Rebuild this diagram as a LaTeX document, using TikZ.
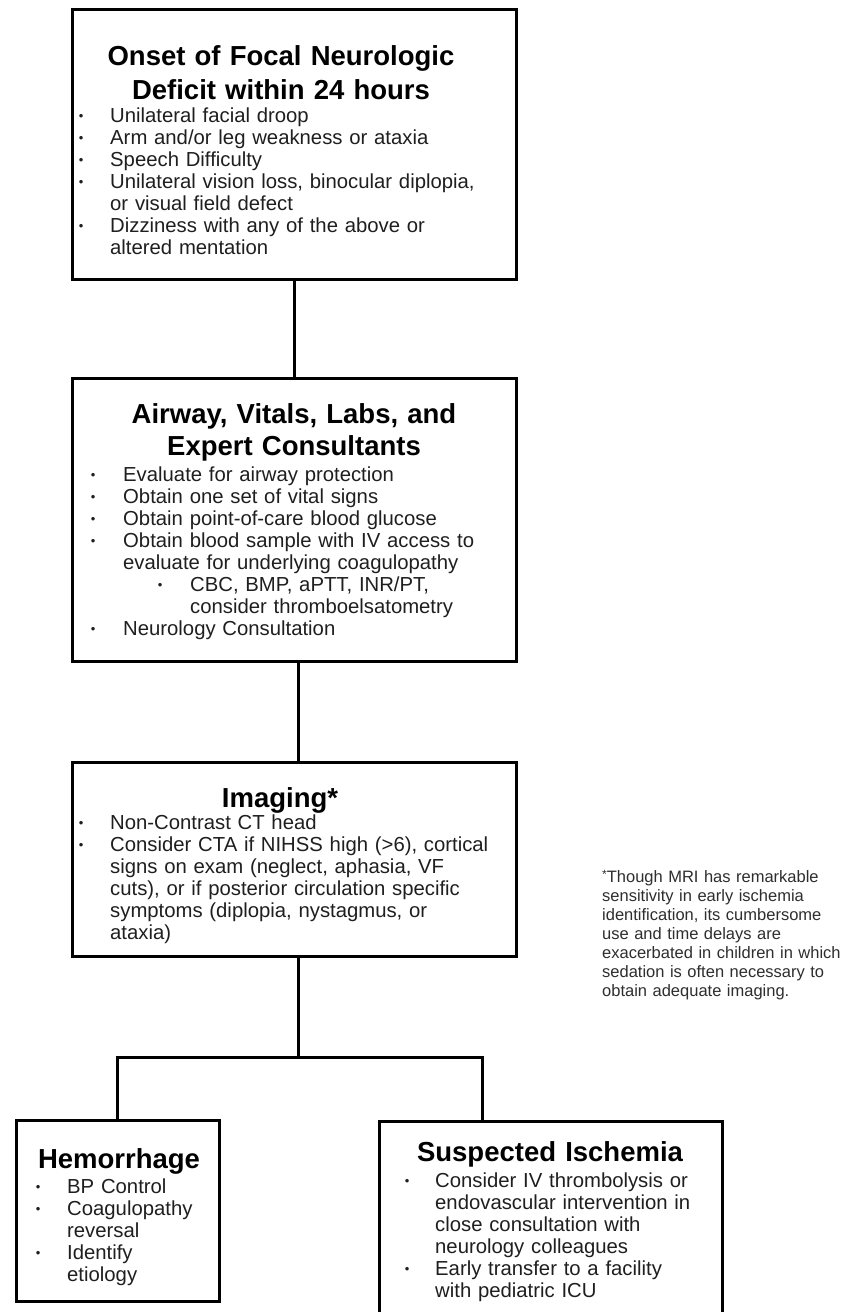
\documentclass[tikz,border=0pt]{standalone}
\usepackage{fontspec}
\setmainfont{Liberation Sans}
\setlength\parskip{0pt}
\definecolor{bodytxt}{rgb}{0.12,0.12,0.12}
\definecolor{notetxt}{rgb}{0.18,0.18,0.18}
\newcommand\bul{\raisebox{1.5pt}{\fontsize{13}{13}\selectfont\textbullet}}
\newcommand\itm[2]{\noindent\hangindent=#1\hangafter=1\makebox[#1][l]{\makebox[0pt]{\bul}}#2\par}
\newcommand\subitm[3]{\noindent\hangindent=#2\hangafter=1\makebox[#2][l]{\hspace{#1}\makebox[0pt]{\bul}}#3\par}
\begin{document}
\begin{tikzpicture}[x=1pt,y=-1pt,
  box/.style={draw=black, line width=3pt, inner sep=0pt, fill=none},
  conn/.style={draw=black, line width=3pt},
  ttl/.style={font=\fontsize{27.5}{33}\selectfont\bfseries, text=black, align=center, inner sep=0pt, anchor=base},
  lst/.style={font=\fontsize{20.3}{22}\selectfont, text=bodytxt, align=left, inner sep=0pt, anchor=base west}]
\useasboundingbox (0,0) rectangle (843,1312);
\clip (0,0) rectangle (843,1312);
\fill[white] (0,0) rectangle (843,1312);

% boxes
\node[box, minimum width=444pt, minimum height=270pt] (b1) at (294,144) {};
\node[box, minimum width=444pt, minimum height=283pt] (b2) at (294,519.5) {};
\node[box, minimum width=444pt, minimum height=194pt] (b3) at (294,859) {};
\node[box, minimum width=203pt, minimum height=181pt] (hem) at (117.5,1210.5) {};
\node[box, minimum width=343pt, minimum height=219pt] (isc) at (550.5,1230.5) {};

% connectors
\coordinate (jm) at (298,1057);
\coordinate (jr) at (482,1057);
\draw[conn] (b1.south) -- (b2.north);
\draw[conn] ([xshift=4pt]b2.south) -- ([xshift=4pt]b3.north);
\draw[conn] ([xshift=4pt]b3.south) -- (jm);
\draw[conn] (hem.north) |- (jr) -- (jr |- isc.north);

% box 1
\node[ttl, font=\fontsize{27.5}{34}\selectfont\bfseries, text width=440pt] (t1) at (281,65) {Onset of Focal Neurologic\\Deficit within 24 hours};
\node[lst, text width=420pt] (l1) at (81,122) {%
\itm{29pt}{Unilateral facial droop}%
\itm{29pt}{Arm and/or leg weakness or ataxia}%
\itm{29pt}{Speech Difficulty}%
\itm{29pt}{Unilateral vision loss, binocular diplopia,\newline or visual field defect}%
\itm{29pt}{Dizziness with any of the above or\newline altered mentation}};

% box 2
\node[ttl, font=\fontsize{27.5}{32}\selectfont\bfseries, text width=440pt] (t2) at (294,423) {Airway, Vitals, Labs, and\\Expert Consultants};
\node[lst, text width=420pt] (l2) at (93,481) {%
\itm{30pt}{Evaluate for airway protection}%
\itm{30pt}{Obtain one set of vital signs}%
\itm{30pt}{Obtain point-of-care blood glucose}%
\itm{30pt}{Obtain blood sample with IV access to\newline evaluate for underlying coagulopathy}%
\subitm{67pt}{97pt}{CBC, BMP, aPTT, INR/PT,\newline consider thromboelsatometry}%
\itm{30pt}{Neurology Consultation}};

% box 3
\node[ttl, text width=440pt] (t3) at (280,807) {Imaging*};
\node[lst, text width=420pt] (l3) at (81,829) {%
\itm{29pt}{Non-Contrast CT head}%
\itm{29pt}{Consider CTA if NIHSS high (>6), cortical\newline signs on exam (neglect, aphasia, VF\newline cuts), or if posterior circulation specific\newline symptoms (diplopia, nystagmus, or\newline ataxia)}};

% footnote
\node[font=\fontsize{16.5}{19}\selectfont, text=notetxt, align=left, inner sep=0pt, anchor=base west, text width=260pt] (fn) at (602,882) {%
\noindent\raisebox{4pt}{\fontsize{12}{12}\selectfont*}Though MRI has remarkable\newline sensitivity in early ischemia\newline identification, its cumbersome\newline use and time delays are\newline exacerbated in children in which\newline sedation is often necessary to\newline obtain adequate imaging.};

% hemorrhage
\node[ttl, text width=200pt] (t4) at (119,1168) {Hemorrhage};
\node[lst, text width=175pt] (l4) at (38,1193) {%
\itm{29pt}{BP Control}%
\itm{29pt}{Coagulopathy\newline reversal}%
\itm{29pt}{Identify\newline etiology}};

% ischemia
\node[ttl, text width=340pt] (t5) at (550,1161) {Suspected Ischemia};
\node[lst, text width=310pt] (l5) at (407,1187) {%
\itm{28pt}{Consider IV thrombolysis or\newline endovascular intervention in\newline close consultation with\newline neurology colleagues}%
\itm{28pt}{Early transfer to a facility\newline with pediatric ICU}};
\end{tikzpicture}
\end{document}
